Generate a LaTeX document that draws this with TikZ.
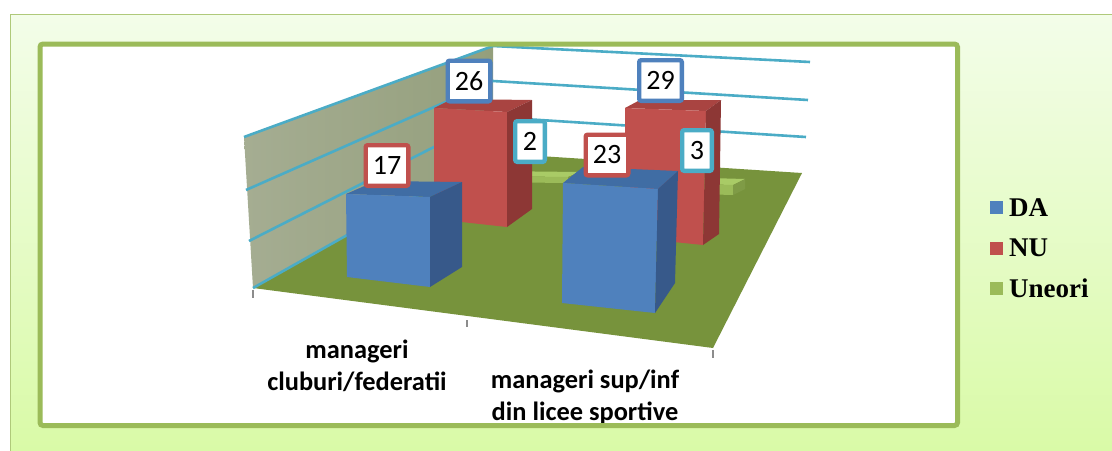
\documentclass[tikz,border=0pt]{standalone}
\usepackage{fontspec}
\setmainfont{Carlito}
\newfontfamily\legendfont{Liberation Serif}
\begin{document}
\begin{tikzpicture}[x=0.50pt, y=-0.50pt, inner xsep=0pt, inner ysep=0pt, outer xsep=0pt, outer ysep=0pt,
  wallline/.style={line width=1.30pt, draw=A},
  axistick/.style={line width=0.70pt, draw=T},
  datalbl/.style={line width=2.20pt, fill=white, rounded corners=1pt, minimum height=20.3pt, minimum width=21.3pt, font=\fontsize{14}{16}\selectfont},
  datalblnarrow/.style={datalbl, minimum width=14.8pt},
  catlbl/.style={align=center, font=\fontsize{13.2}{16}\selectfont\bfseries},
  keybox/.style={minimum size=6.5pt},
  keytext/.style={anchor=west, font=\fontsize{13.5}{15}\selectfont\legendfont\bfseries}]
\useasboundingbox (0,0) rectangle (1112,450);
\definecolor{BGT}{HTML}{F3FDE9}
\definecolor{BGB}{HTML}{D8FAA4}
\definecolor{P}{HTML}{9BBB59}
\definecolor{A}{HTML}{4BACC6}
\definecolor{T}{HTML}{8C8C8C}
\definecolor{WL}{HTML}{A5AD92}
\definecolor{WR}{HTML}{949F7C}
\definecolor{FL}{HTML}{77933C}
\definecolor{BF}{HTML}{4F81BD}
\definecolor{BT}{HTML}{406DA4}
\definecolor{BS}{HTML}{37598A}
\definecolor{RF}{HTML}{C0504D}
\definecolor{RT}{HTML}{A94441}
\definecolor{RS}{HTML}{8D3735}
\definecolor{GF}{HTML}{9BBB59}
\definecolor{GT}{HTML}{A9CB66}
\definecolor{GS}{HTML}{7F9B46}
\path[fill=white] (0,0) rectangle (1112,450);
\path[line width=0.70pt, draw=P!80, top color=BGT, bottom color=BGB] (10.5,14.5) rectangle (1130,470);
\path[fill=white] (40,44) rectangle (957.5,425.5);
\path[left color=WL, right color=WR] (244,137) -- (493,46) -- (493,153) -- (253,288) -- cycle;
\path[fill=FL] (253,288) -- (493,153) -- (802,173) -- (713,348) -- cycle;
\path[wallline] (244,137) -- (493,46) -- (810,62);
\path[wallline] (246,190) -- (493,81) -- (808,100);
\path[wallline] (249,241) -- (493,117) -- (806,137);
\path[wallline] (253,288) -- (493,153);
\path[axistick] (253,290) -- (253,298);
\path[axistick] (467,320) -- (467,327);
\path[axistick] (713,350) -- (713,358);
\path[fill=GT] (478,176) -- (490,171) -- (580,172) -- (568,177) -- cycle;
\path[fill=GF] (478,176) -- (568,177) -- (568,183) -- (478,182) -- cycle;
\path[fill=GS] (568,177) -- (580,172) -- (580,178) -- (568,183) -- cycle;
\path[fill=GT] (660,183) -- (672,177) -- (745,179) -- (733,185) -- cycle;
\path[fill=GF] (660,183) -- (733,185) -- (733,195) -- (660,193) -- cycle;
\path[fill=GS] (733,185) -- (745,179) -- (745,189) -- (733,195) -- cycle;
\path[fill=RT] (434,108) -- (452,99) -- (532,100) -- (507,112) -- cycle;
\path[fill=RF] (434,108) -- (507,112) -- (507,227) -- (434,219) -- cycle;
\path[fill=RS] (507,112) -- (532,100) -- (532,209) -- (507,227) -- cycle;
\path[fill=RT] (625,108) -- (640,100) -- (721,100) -- (706,111) -- cycle;
\path[fill=RF] (625,108) -- (706,111) -- (703,245) -- (625,237) -- cycle;
\path[fill=RS] (706,111) -- (721,100) -- (719,234) -- (703,245) -- cycle;
\path[fill=BT] (346,194) -- (376,181) -- (462,182) -- (430,197) -- cycle;
\path[fill=BF] (346,194) -- (430,197) -- (430,287) -- (347,277) -- cycle;
\path[fill=BS] (430,197) -- (462,182) -- (462,267) -- (430,287) -- cycle;
\path[fill=BT] (563,183) -- (583,167) -- (678,171) -- (658,189) -- cycle;
\path[fill=BF] (563,183) -- (658,189) -- (655,313) -- (562,303) -- cycle;
\path[fill=BS] (658,189) -- (678,171) -- (675,283) -- (655,313) -- cycle;
\node[datalbl, draw=RF] (v17) at (387,165.5) {17};
\node[datalbl, draw=BF] (v26) at (469,81) {26};
\node[datalblnarrow, draw=A] (v2) at (530,141.5) {2};
\node[datalbl, draw=RF] (v23) at (607,155) {23};
\node[datalbl, draw=BF] (v29) at (660.5,80.5) {29};
\node[datalblnarrow, draw=A] (v3) at (697,150.5) {3};
\node[catlbl] (cat1) at (357,366) {manageri\\cluburi/federatii};
\node[catlbl] (cat2) at (585,397) {manageri sup/inf\\din licee sportive};
\path[line width=2.50pt, draw=P, rounded corners=1.5pt] (40,44) rectangle (957.5,425.5);
\node[keybox, fill=BF] (kDA) at (996.5,207) {};
\node[keybox, fill=RF] (kNU) at (996.5,248) {};
\node[keybox, fill=GF] (kUn) at (996.5,288) {};
\node[keytext] (tDA) at (1009,208) {DA};
\node[keytext] (tNU) at (1009,248) {NU};
\node[keytext] (tUn) at (1009,288) {Uneori};
\end{tikzpicture}
\end{document}
